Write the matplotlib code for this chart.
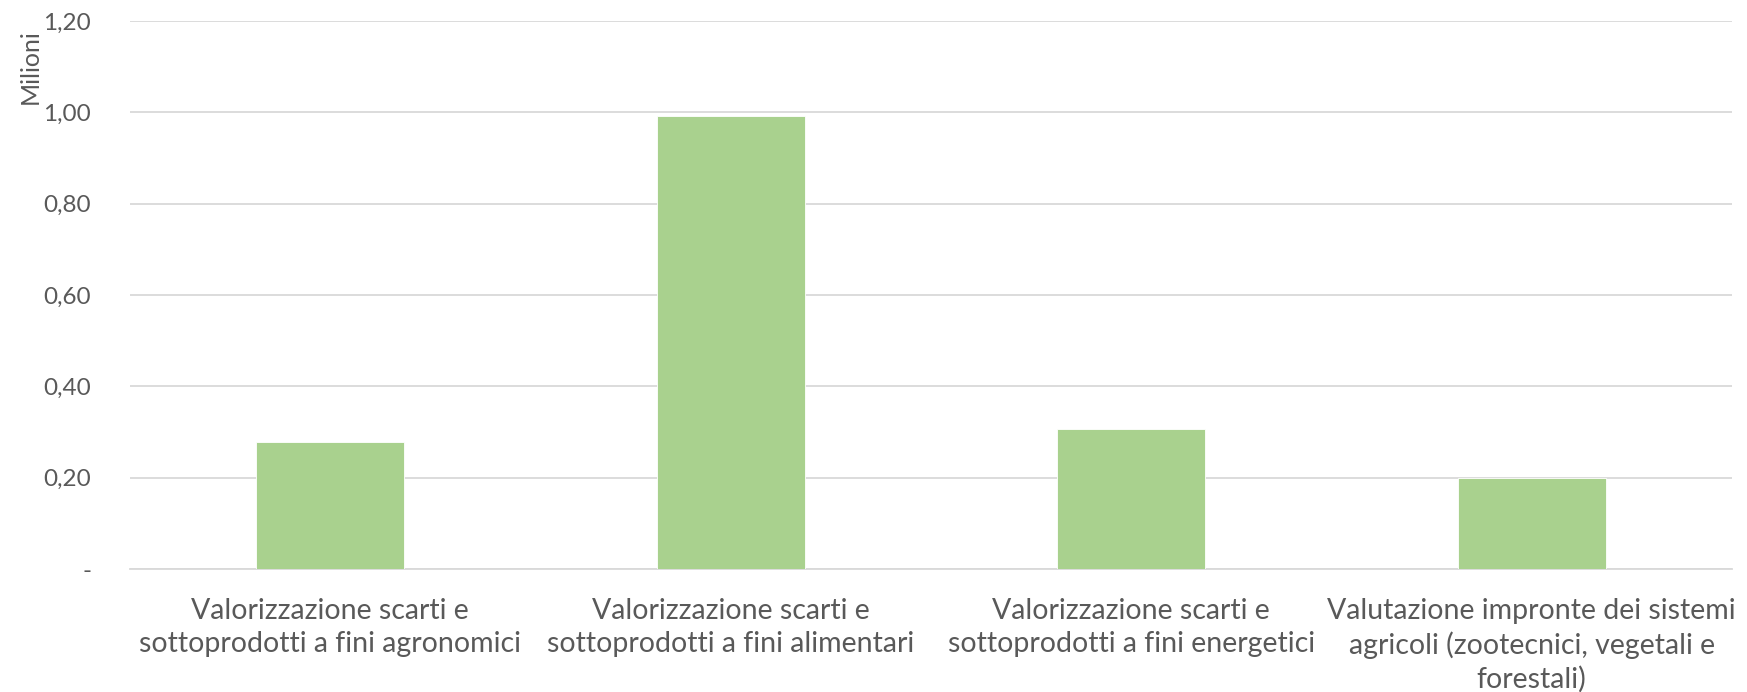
import matplotlib
matplotlib.use("Agg")
import matplotlib.pyplot as plt
from matplotlib.ticker import FuncFormatter

categories = [
    "Valorizzazione scarti e\nsottoprodotti a fini agronomici",
    "Valorizzazione scarti e\nsottoprodotti a fini alimentari",
    "Valorizzazione scarti e\nsottoprodotti a fini energetici",
    "Valutazione impronte dei sistemi\nagricoli (zootecnici, vegetali e\nforestali)",
]
values = [0.279, 0.993, 0.307, 0.199]  # milioni
yticks = [0.0, 0.2, 0.4, 0.6, 0.8, 1.0, 1.2]

BAR_COLOR = "#A9D18E"
GRID_COLOR = "#D9D9D9"
TEXT_COLOR = "#595959"

plt.rcParams["font.family"] = ["Lato", "DejaVu Sans"]

fig = plt.figure(figsize=(17.47, 6.92), dpi=100)
ax = fig.add_axes([0.0744, 0.1777, 0.9170, 0.7920])

x = range(len(categories))
ax.bar(x, values, width=0.37, color=BAR_COLOR, edgecolor="white", linewidth=0.6, zorder=3)

ax.set_xlim(-0.5, len(categories) - 0.5)
ax.set_ylim(0, 1.2)
ax.set_yticks(yticks)
ax.yaxis.set_major_formatter(FuncFormatter(
    lambda v, p: "-" if abs(v) < 1e-9 else f"{v:.2f}".replace(".", ",")))
ax.grid(axis="y", color=GRID_COLOR, linewidth=1.3, zorder=0)
ax.set_axisbelow(True)

for s in ["top", "right", "left"]:
    ax.spines[s].set_visible(False)
ax.spines["bottom"].set_color(GRID_COLOR)
ax.spines["bottom"].set_linewidth(1.3)

ax.set_xticks(list(x))
ax.set_xticklabels(categories, fontsize=20.5, color=TEXT_COLOR, linespacing=1.32)
ax.tick_params(axis="x", length=0, pad=21)
ax.tick_params(axis="y", length=0, pad=28, labelsize=17.5, labelcolor=TEXT_COLOR)

fig.text(0.0172, 0.903, "Milioni", rotation=90, ha="center", va="center",
         fontsize=18, color=TEXT_COLOR)

fig.savefig("out.png", dpi=100, facecolor="white")
